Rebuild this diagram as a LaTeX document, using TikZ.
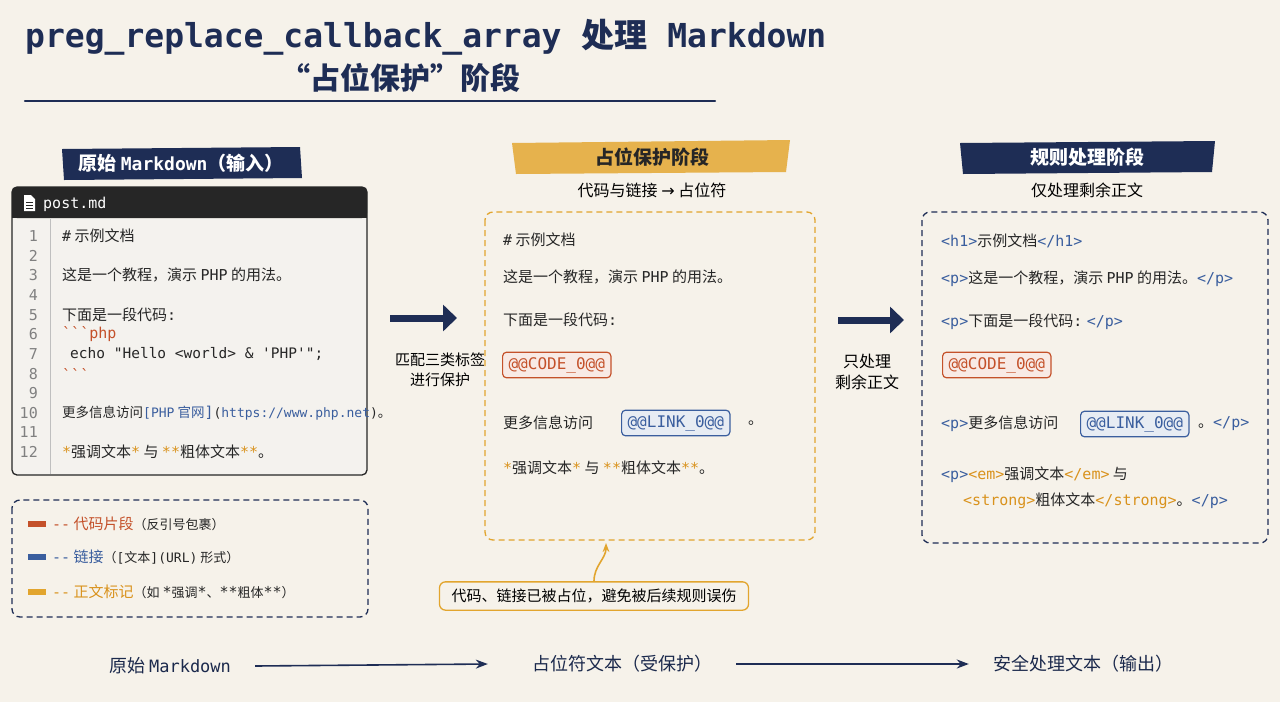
\documentclass[tikz,border=0pt]{standalone}
\usepackage{fontspec}
\setmainfont{Noto Sans CJK SC}
\setmonofont{DejaVu Sans Mono}
\newfontfamily\cjk{Noto Sans CJK SC}
\newfontfamily\djsans{DejaVu Sans}
\usetikzlibrary{arrows.meta}
\definecolor{bg}{HTML}{F6F2EA}
\definecolor{navy}{HTML}{1E2D55}
\definecolor{gold}{HTML}{E2A52E}
\definecolor{cred}{HTML}{C4512A}
\definecolor{cblue}{HTML}{3A5E9E}
\definecolor{corange}{HTML}{D9921C}
\definecolor{panel}{HTML}{F4F2EE}
\newcommand\M[1]{{\ttfamily\fontsize{15}{17}\selectfont #1}}
\newcommand\Bl[1]{\textcolor{cblue}{#1}}
\newcommand\Or[1]{\textcolor{corange}{#1}}
\newcommand\Rd[1]{\textcolor{cred}{#1}}
\begin{document}
\begin{tikzpicture}[x=1pt,y=-1pt,
  txt/.style={anchor=west,inner sep=0pt,font=\fontsize{15}{17}\selectfont,text=black!85},
  num/.style={anchor=east,inner sep=0pt,font=\fontsize{14}{16}\selectfont,text=black!50},
  banner/.style={inner sep=0pt,font=\fontsize{19}{22}\selectfont\bfseries},
  dbox/.style={draw,dashed,line width=1.3pt,rounded corners=8pt,dash pattern=on 6pt off 4pt},
  tag/.style={draw,rounded corners=4pt,line width=1.2pt,inner xsep=6pt,inner ysep=5pt,font=\ttfamily\fontsize{16}{18}\selectfont},
  bigarrow/.style={-{Triangle[length=14pt,width=26pt]},line width=7pt,navy},
  flow/.style={-{Stealth[length=12pt,width=9pt]},line width=1.6pt,navy},
  bot/.style={inner sep=0pt,font=\fontsize{18}{20}\selectfont,text=navy!90!black}]
\useasboundingbox (0,0) rectangle (1280,702);
\fill[bg] (0,0) rectangle (1280,702);
% title
\node[anchor=west,inner sep=0pt,text=navy] (t1) at (25,37) {\fontsize{33}{36}\selectfont\bfseries\ttfamily preg\_replace\_callback\_array {\cjk 处理} Markdown};
\node[inner sep=0pt,text=navy] (t2) at (400,78) {\fontsize{30}{34}\selectfont\bfseries “占位保护”阶段};
\draw[navy,line width=2.2pt,line cap=round] (25,101) -- (715,101);
% left banner
\fill[navy] (62,149) -- (300,147) -- (302,178) -- (64,180) -- cycle;
\node[banner,text=white] (lb) at (181,163) {原始 \M{\fontsize{18}{20}\selectfont Markdown}（输入）};
% editor
\filldraw[draw=black!85,fill=panel,line width=1.3pt,rounded corners=5pt] (12,187) rectangle (367,475);
\fill[black!85,rounded corners=5pt] (12,187) rectangle (367,218);
\fill[black!85] (12,205) rectangle (367,218);
\fill[white] (24,195) -- (31,195) -- (35,199) -- (35,211) -- (24,211) -- cycle;
\draw[black!85,line width=0.8pt] (26,202)--(33,202) (26,205)--(33,205) (26,208)--(33,208);
\node[anchor=west,inner sep=0pt,text=white] (pm) at (43,204) {\M{post.md}};
\draw[black!25,line width=0.8pt] (50,219) -- (50,474);
\foreach \n/\y in {1/236,2/256,3/275,4/295,5/315,6/334,7/354,8/374,9/393,10/413,11/432,12/452}
  \node[num] at (38,\y) {\M{\n}};
\node[txt] (l1) at (62,236) {\M{\#} 示例文档};
\node[txt] (l3) at (62,275) {这是一个教程，演示 \M{PHP} 的用法。};
\node[txt] (l5) at (62,315) {下面是一段代码\M{:}};
\node[txt] (l6) at (62,334) {\Rd{\M{```php}}};
\node[txt] (l7) at (70,354) {\M{\fontsize{14.5}{17}\selectfont echo "Hello <world> \& 'PHP'";}};
\node[txt] (l8) at (62,374) {\Rd{\M{```}}};
\node[txt] (l10) at (62,413) {\fontsize{13.5}{16}\selectfont 更多信息访问\Bl{\M{\fontsize{13}{16}\selectfont[PHP} 官网\M{]}}\M{\fontsize{13}{16}\selectfont(\Bl{https://www.php.net})}。};
\node[txt] (l12) at (62,452) {\Or{\M{*}}强调文本\Or{\M{*}} 与 \Or{\M{**}}粗体文本\Or{\M{**}}。};
% legend
\draw[dbox,navy] (12,500) rectangle (368,617);
\fill[cred] (28,521) rectangle (46,527);
\fill[cblue] (28,554) rectangle (46,560);
\fill[gold] (28,589) rectangle (46,595);
\node[txt] (g1) at (52,524) {\Rd{\M{--} 代码片段}\fontsize{13}{15}\selectfont（反引号包裹）};
\node[txt] (g2) at (52,557) {\Bl{\M{--} 链接}\fontsize{13}{15}\selectfont（\M{\fontsize{13}{15}\selectfont[}文本\M{\fontsize{13}{15}\selectfont](URL)} 形式）};
\node[txt] (g3) at (52,592) {\Or{\M{--} 正文标记}\fontsize{13}{15}\selectfont（如 \M{*}强调\M{*}、\M{**}粗体\M{**}）};
% arrow 1
\coordinate (a1s) at (390,318); \coordinate (a1e) at (457,318);
\draw[bigarrow] (a1s) -- (a1e);
\node[align=center,inner sep=0pt,font=\fontsize{15}{20}\selectfont] (a1l) at (440,370) {匹配三类标签\\进行保护};
% middle banner
\fill[gold!85] (512,143) -- (790,140) -- (786,172) -- (516,174) -- cycle;
\node[banner,text=black!85] (mb) at (652,157) {占位保护阶段};
\node[inner sep=0pt,font=\fontsize{16}{18}\selectfont] (ms) at (652,190) {代码与链接 {\djsans→} 占位符};
\draw[dbox,gold] (485,212) rectangle (815,540);
\node[txt] (m1) at (503,240) {\M{\#} 示例文档};
\node[txt] (m2) at (503,277) {这是一个教程，演示 \M{PHP} 的用法。};
\node[txt] (m3) at (503,320) {下面是一段代码\M{:}};
\node[tag,anchor=west,draw=cred,fill=cred!12,text=cred] (mc) at (502,365) {@@CODE\_0@@};
\node[txt] (m4) at (503,423) {更多信息访问};
\node[tag,anchor=west,draw=cblue,fill=cblue!12,text=cblue] (ml) at (621,423) {@@LINK\_0@@};
\node[txt] (m4b) at (748,423) {。};
\node[txt] (m5) at (503,468) {\Or{\M{*}}强调文本\Or{\M{*}} 与 \Or{\M{**}}粗体文本\Or{\M{**}}。};
% callout
\node[draw=gold,line width=1.3pt,rounded corners=6pt,fill=bg,inner xsep=12pt,inner ysep=7pt,font=\fontsize{15}{17}\selectfont] (co) at (594,596) {代码、链接已被占位，避免被后续规则误伤};
\coordinate (cot) at (606,543);
\draw[-{Stealth[length=9pt]},gold,line width=1.6pt] (co.north) to[out=90,in=-90] (cot);
% arrow 2
\coordinate (a2s) at (838,320); \coordinate (a2e) at (904,320);
\draw[bigarrow] (a2s) -- (a2e);
\node[align=center,inner sep=0pt,font=\fontsize{16}{21}\selectfont] (a2l) at (867,372) {只处理\\剩余正文};
% right banner
\fill[navy] (960,143) -- (1215,141) -- (1212,172) -- (963,174) -- cycle;
\node[banner,text=white] (rb) at (1087,157) {规则处理阶段};
\node[inner sep=0pt,font=\fontsize{16}{18}\selectfont] (rs) at (1087,190) {仅处理剩余正文};
\draw[dbox,navy] (922,212) rectangle (1268,543);
\node[txt] (r1) at (941,241) {\Bl{\M{<h1>}}示例文档\Bl{\M{</h1>}}};
\node[txt] (r2) at (941,279) {\Bl{\M{<p>}}这是一个教程，演示 \M{PHP} 的用法。\Bl{\M{</p>}}};
\node[txt] (r3) at (941,322) {\Bl{\M{<p>}}下面是一段代码\M{:} \Bl{\M{</p>}}};
\node[tag,anchor=west,draw=cred,fill=cred!12,text=cred] (rc) at (942,365) {@@CODE\_0@@};
\node[txt] (r4) at (941,424) {\Bl{\M{<p>}}更多信息访问};
\node[tag,anchor=west,draw=cblue,fill=cblue!12,text=cblue] (rl) at (1080,424) {@@LINK\_0@@};
\node[txt] (r4b) at (1198,424) {。\Bl{\M{</p>}}};
\node[txt] (r5) at (941,475) {\Bl{\M{<p>}}\Or{\M{<em>}}强调文本\Or{\M{</em>}} 与};
\node[txt] (r6) at (963,501) {\Or{\M{<strong>}}粗体文本\Or{\M{</strong>}}。\Bl{\M{</p>}}};
% bottom flow
\node[bot] (b1) at (170,666) {原始 \M{\fontsize{17}{20}\selectfont Markdown}};
\node[bot] (b2) at (622,664) {占位符文本（受保护）};
\node[bot] (b3) at (1083,664) {安全处理文本（输出）};
\draw[flow] ([xshift=24pt]b1.east) -- ([xshift=-44pt]b2.west);
\draw[flow] ([xshift=24pt]b2.east) -- ([xshift=-24pt]b3.west);
\end{tikzpicture}
\end{document}
